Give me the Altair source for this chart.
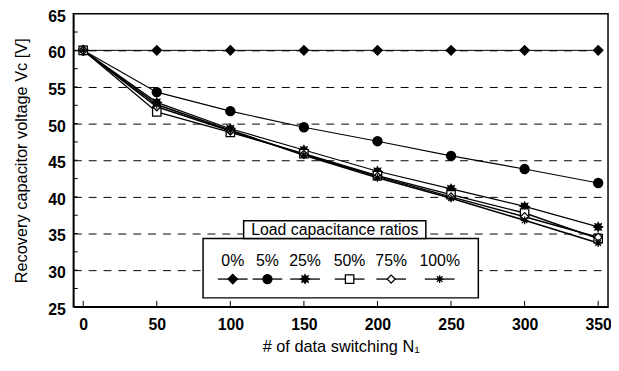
import altair as alt
import pandas as pd
import math

# ---- data ----
n_switch = [0, 50, 100, 150, 200, 250, 300, 350]
series_names = ["0%", "5%", "25%", "50%", "75%", "100%"]
v_0 = [60.0, 60.0, 60.0, 60.0, 60.0, 60.0, 60.0, 60.0]
v_5 = [60.0, 54.3, 51.7, 49.5, 47.6, 45.6, 43.8, 41.9]
v_25 = [60.0, 52.9, 49.3, 46.4, 43.5, 41.1, 38.7, 35.9]
v_50 = [60.0, 51.6, 48.8, 45.9, 42.9, 40.3, 37.8, 34.3]
v_75 = [60.0, 52.3, 49.0, 45.8, 42.8, 40.0, 37.3, 34.5]
v_100 = [60.0, 52.6, 49.1, 45.7, 42.6, 39.8, 36.8, 33.7]
all_vals = [v_0, v_5, v_25, v_50, v_75, v_100]
x_ticks = [0, 50, 100, 150, 200, 250, 300, 350]
y_ticks = [25, 30, 35, 40, 45, 50, 55, 60, 65]
y_minor = [27.5, 32.5, 37.5, 42.5, 47.5, 52.5, 57.5, 62.5]
legend_title = "Load capacitance ratios"

rows = []
for name, vals in zip(series_names, all_vals):
    for x, v in zip(n_switch, vals):
        rows.append({"N": x, "V": v, "ratio": name})
df = pd.DataFrame(rows)

# ---- styles ----
FONT = "Liberation Sans"
XMIN, XMAX = -6.7, 356.7
YMIN, YMAX = 25, 65

def star_path(n=8, r_out=1.0, r_in=0.6):
    pts = []
    for i in range(2 * n):
        r = r_out if i % 2 == 0 else r_in
        a = math.pi * i / n - math.pi / 2
        pts.append(f"{r*math.cos(a):.3f},{r*math.sin(a):.3f}")
    return "M" + "L".join(pts) + "Z"

asterisk = "M-1,0L1,0M0,-1L0,1M-0.72,-0.72L0.72,0.72M-0.72,0.72L0.72,-0.72"
shapes = ["diamond", "circle", star_path(), "square", "diamond", asterisk]
fills = ["black", "black", "black", "white", "white", "white"]
sizes = [90, 60, 140, 100, 60, 130]
widths = [1.0, 1.6, 1.4, 1.3, 1.0, 1.6]

xs = alt.Scale(domain=[XMIN, XMAX], nice=False, zero=False)
ys = alt.Scale(domain=[YMIN, YMAX], nice=False, zero=False)

x_axis = alt.Axis(values=x_ticks, title="# of data switching N₁", tickSize=0,
                  labelPadding=10, titlePadding=6, grid=False, labelOverlap=False,
                  domainColor="black", domainWidth=1.5)
y_axis = alt.Axis(values=y_ticks, title="Recovery capacitor voltage Vc [V]", tickSize=0,
                  labelPadding=8, titlePadding=19, labelOverlap=False, labelOffset=2.5,
                  grid=True, gridDash=[8, 7], gridColor="black", gridWidth=1,
                  gridOpacity=alt.ExprRef("datum.value > 25 && datum.value < 65 ? 1 : 0"),
                  domainColor="black", domainWidth=1.5)

base = alt.Chart(df)

lines = base.mark_line(color="black").encode(
    x=alt.X("N:Q", scale=xs, axis=x_axis),
    y=alt.Y("V:Q", scale=ys, axis=y_axis),
    detail="ratio:N",
    strokeWidth=alt.StrokeWidth("ratio:N", scale=alt.Scale(domain=series_names, range=widths), legend=None),
)

points = base.mark_point(stroke="black", strokeWidth=1.3, opacity=1, filled=False).encode(
    x=alt.X("N:Q", scale=xs, axis=x_axis),
    y=alt.Y("V:Q", scale=ys, axis=y_axis),
    shape=alt.Shape("ratio:N", scale=alt.Scale(domain=series_names, range=shapes), legend=None),
    fill=alt.Fill("ratio:N", scale=alt.Scale(domain=series_names, range=fills), legend=None),
    size=alt.Size("ratio:N", scale=alt.Scale(domain=series_names, range=sizes), legend=None),
)

# inner ticks
xt = pd.DataFrame({"t": x_ticks})
x_tick_marks = alt.Chart(xt).mark_rule(color="black", strokeWidth=1).encode(
    x=alt.X("t:Q", scale=xs, axis=x_axis), y=alt.Y("y0:Q", scale=ys, axis=y_axis), y2="y1:Q"
).transform_calculate(y0=str(YMIN), y1=str(YMIN + 0.8))
yt = pd.DataFrame({"t": y_ticks[1:-1] + y_minor})
y_tick_marks = alt.Chart(yt).mark_rule(color="black", strokeWidth=1).encode(
    y=alt.Y("t:Q", scale=ys, axis=y_axis), x=alt.X("x0:Q", scale=xs, axis=x_axis), x2="x1:Q"
).transform_calculate(x0=str(XMIN), x1=str(XMIN + 3))

# ---- manual legend (pixel layout inside plot area) ----
one = pd.DataFrame({"a": [0]})
leg_box = alt.Chart(one).mark_rect(fill="white", stroke="black", strokeWidth=1.5).encode(
    x=alt.value(131), x2=alt.value(409), y=alt.value(227), y2=alt.value(287))
title_box = alt.Chart(one).mark_rect(fill="white", stroke="black", strokeWidth=1.5).encode(
    x=alt.value(172), x2=alt.value(356), y=alt.value(209), y2=alt.value(227))
title_txt = alt.Chart(one).mark_text(font=FONT, fontSize=16, color="black", baseline="middle").encode(
    x=alt.value(264), y=alt.value(218.5), text=alt.value(legend_title))

leg_x = [161, 196, 234, 279, 321, 370]
leg_df = pd.DataFrame({"ratio": series_names, "lx": leg_x,
                       "lx0": [v - 15 for v in leg_x], "lx1": [v + 15 for v in leg_x]})
leg_lines = alt.Chart(leg_df).mark_rule(color="black", strokeWidth=1.3).encode(
    x=alt.X("lx0:Q", scale=None), x2="lx1:Q", y=alt.value(268))
leg_pts = alt.Chart(leg_df).mark_point(stroke="black", strokeWidth=1.3, opacity=1, filled=False).encode(
    x=alt.X("lx:Q", scale=None), y=alt.value(268),
    shape=alt.Shape("ratio:N", scale=alt.Scale(domain=series_names, range=shapes), legend=None),
    fill=alt.Fill("ratio:N", scale=alt.Scale(domain=series_names, range=fills), legend=None),
    size=alt.Size("ratio:N", scale=alt.Scale(domain=series_names, range=sizes), legend=None),
)
leg_txt = alt.Chart(leg_df).mark_text(font=FONT, fontSize=16, color="black", baseline="middle").encode(
    x=alt.X("lx:Q", scale=None), y=alt.value(250), text="ratio:N")

chart = alt.layer(
    lines, points, x_tick_marks, y_tick_marks,
    leg_box, title_box, title_txt, leg_lines, leg_pts, leg_txt
).resolve_scale(shape="independent", fill="independent", size="independent").properties(
    width=540, height=296,
    autosize=alt.AutoSizeParams(type="none"),
    padding={"left": 66, "top": 4, "right": 3, "bottom": 55},
).configure_view(stroke="black", strokeWidth=1.5).configure_axis(
    labelFont=FONT, titleFont=FONT, labelFontSize=16, titleFontSize=16.5,
    labelColor="black", titleColor="black", titleFontWeight="normal", labelFontWeight="bold",
    labelOverlap=False,
)

chart.save("out.html", embed_options={"renderer": "svg", "actions": False})
